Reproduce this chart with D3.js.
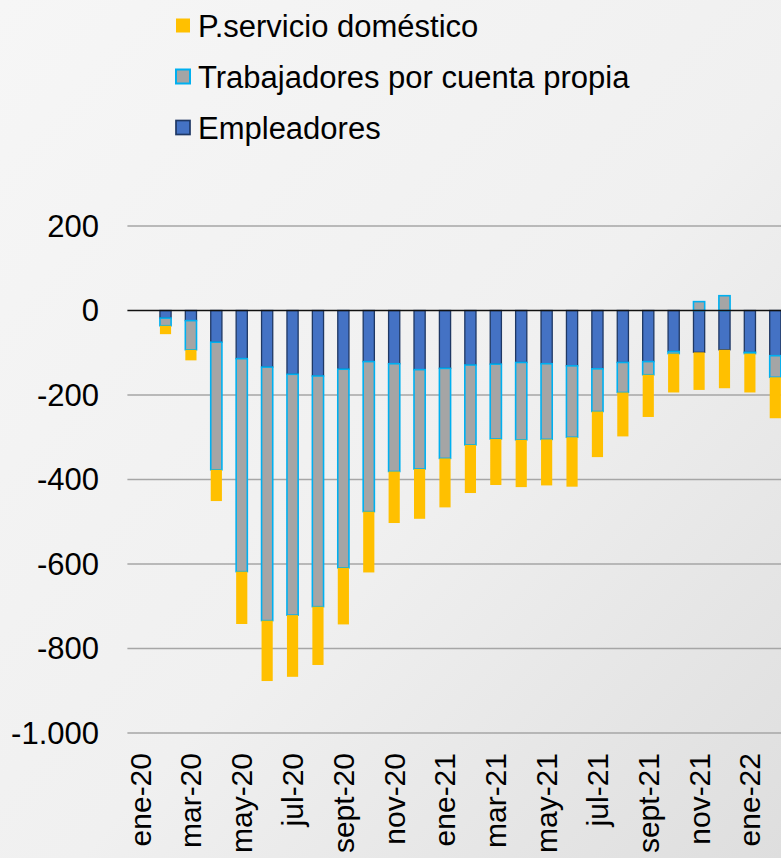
<!DOCTYPE html>
<html>
<head>
<meta charset="utf-8">
<script src="https://cdn.jsdelivr.net/npm/d3@7"></script>
<style>
  body { margin: 0; background: #f2f2f2; }
  svg { display: block; font-family: "Liberation Sans", Arial, sans-serif; }
</style>
</head>
<body>
<div id="chart"></div>
<script>
// months, ene-20 has no bar in the original
var months = ["ene-20","feb-20","mar-20","abr-20","may-20","jun-20","jul-20","ago-20",
  "sept-20","oct-20","nov-20","dic-20","ene-21","feb-21","mar-21","abr-21","may-21",
  "jun-21","jul-21","ago-21","sept-21","oct-21","nov-21","dic-21","ene-22","feb-22"];

var empleadores = [0, -18, -24, -75, -114, -134, -151, -155, -139, -121, -126, -140, -137,
  -129, -127, -123, -126, -131, -138, -123, -121, -97, -99, -93, -99, -107];
var cuentaPropia = [0, -18, -69, -302, -504, -600, -570, -546, -470, -355, -255, -235, -213,
  -189, -177, -183, -179, -169, -101, -71, -31, -5, 21, 35, -3, -51];
var servicioDomestico = [0, -20, -25, -74, -124, -143, -146, -138, -134, -144, -122, -118, -116,
  -114, -109, -112, -109, -117, -108, -104, -100, -92, -89, -91, -92, -97];

var yTicks = [200, 0, -200, -400, -600, -800, -1000];

var series = [
  {key: "emp", name: "Empleadores", fill: "#4472C4", stroke: "#1F3864", sw: 1.3},
  {key: "tcp", name: "Trabajadores por cuenta propia", fill: "#A5A5A5", stroke: "#00B0F0", sw: 1.6},
  {key: "psd", name: "P.servicio doméstico", fill: "#FFC000", stroke: "none", sw: 0}
];

var width = 781, height = 858;
var margin = {left: 127.4, right: -7, top: 226, bottom: 125};

var rows = months.map(function(m, i) {
  return {month: m, emp: empleadores[i], tcp: cuentaPropia[i], psd: servicioDomestico[i]};
});

var svg = d3.select("#chart").append("svg")
  .attr("width", width)
  .attr("height", height);

// background
var defs = svg.append("defs");
var grad = defs.append("linearGradient").attr("id", "bg")
  .attr("x1", "0%").attr("y1", "0%").attr("x2", "100%").attr("y2", "100%");
grad.append("stop").attr("offset", "0%").attr("stop-color", "#f6f6f6");
grad.append("stop").attr("offset", "55%").attr("stop-color", "#f0f0f0");
grad.append("stop").attr("offset", "100%").attr("stop-color", "#dedede");
svg.append("rect").attr("width", width).attr("height", height).attr("fill", "url(#bg)");

var x = d3.scaleBand()
  .domain(months)
  .range([margin.left, width - margin.right])
  .paddingInner(0.56)
  .paddingOuter(0.28);

var y = d3.scaleLinear()
  .domain([-1000, 200])
  .range([height - margin.bottom, margin.top]);

var fmt = d3.formatLocale({decimal: ",", thousands: ".", grouping: [3], currency: ["$", ""], minus: "-"}).format(",d");

// gridlines
svg.append("g").selectAll("line")
  .data(yTicks.filter(function(d) { return d !== 0; }))
  .enter().append("line")
    .attr("x1", margin.left).attr("x2", width)
    .attr("y1", d => y(d)).attr("y2", d => y(d))
    .attr("stroke", "#a6a6a6")
    .attr("stroke-width", 1.5);

// y labels
svg.append("g").selectAll("text")
  .data(yTicks)
  .enter().append("text")
    .attr("x", 99)
    .attr("y", d => y(d))
    .attr("dy", "0.34em")
    .attr("text-anchor", "end")
    .style("font-size", "31px")
    .attr("fill", "#000")
    .text(d => fmt(d));

// stacked bars
var stack = d3.stack()
  .keys(["emp", "tcp", "psd"])
  .offset(d3.stackOffsetDiverging);

var layers = stack(rows);

svg.append("g").selectAll("g")
  .data(layers)
  .enter().append("g")
    .each(function(layer, li) {
      var s = series[li];
      d3.select(this).selectAll("rect")
        .data(layer.filter(d => d[1] - d[0] !== 0))
        .enter().append("rect")
          .attr("x", d => x(d.data.month))
          .attr("width", x.bandwidth())
          .attr("y", d => y(d[1]))
          .attr("height", d => y(d[0]) - y(d[1]))
          .attr("fill", s.fill)
          .attr("stroke", s.stroke)
          .attr("stroke-width", s.sw);
    });

// zero line
svg.append("line")
  .attr("x1", margin.left).attr("x2", width)
  .attr("y1", y(0)).attr("y2", y(0))
  .attr("stroke", "#111")
  .attr("stroke-width", 1.6);

// x labels, every other month
svg.append("g").selectAll("text")
  .data(months.filter((d, i) => i % 2 === 0))
  .enter().append("text")
    .attr("transform", d => "translate(" + (x(d) + x.bandwidth() / 2) + "," + (y(-1000) + 20) + ") rotate(-90)")
    .attr("dy", "0.35em")
    .attr("text-anchor", "end")
    .style("font-size", "30px")
    .attr("fill", "#000")
    .text(d => d);

// legend (reverse order like the original)
var legend = svg.append("g");
var legendRows = series.slice().reverse();
legendRows.forEach(function(s, i) {
  var cy = 25.5 + i * 51;
  legend.append("rect")
    .attr("x", 176).attr("y", cy - 7)
    .attr("width", 14).attr("height", 14)
    .attr("fill", s.fill)
    .attr("stroke", s.stroke)
    .attr("stroke-width", s.sw + 0.4);
  legend.append("text")
    .attr("x", 198).attr("y", cy)
    .attr("dy", "0.36em")
    .style("font-size", "31px")
    .attr("fill", "#000")
    .text(s.name);
});
</script>
</body>
</html>
